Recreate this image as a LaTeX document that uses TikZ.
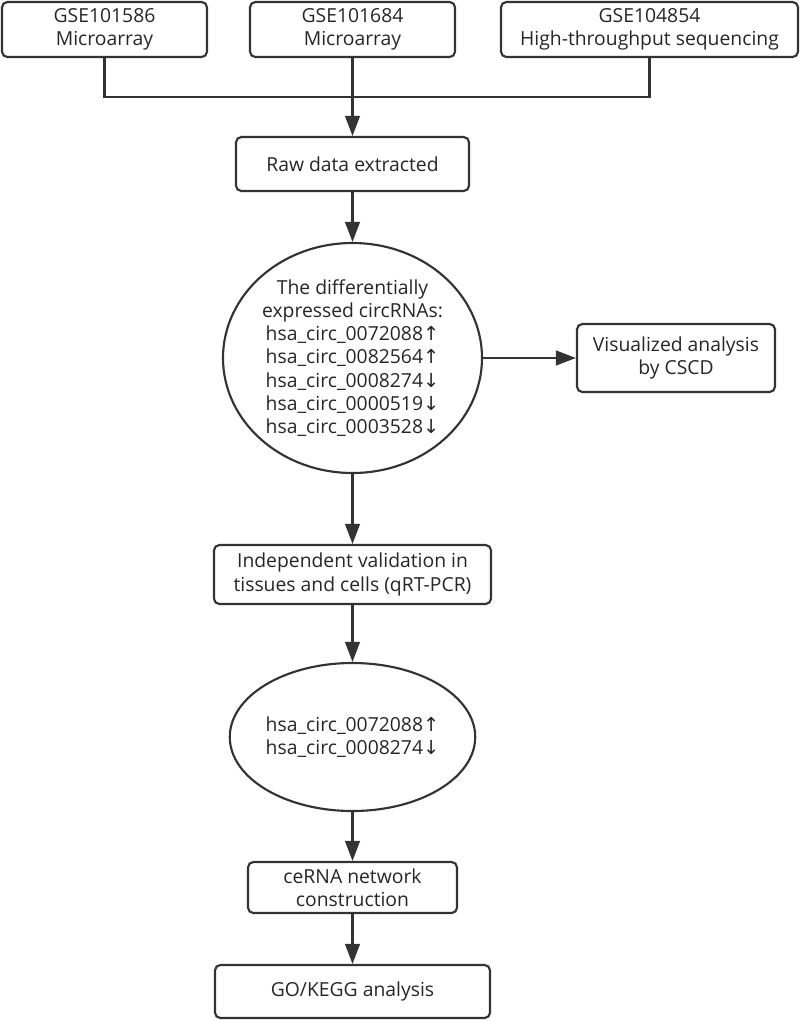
\documentclass[tikz,border=0pt]{standalone}
\usepackage{fontspec}
\setmainfont{Open Sans}
\newfontfamily\arrfont{DejaVu Sans}
\usetikzlibrary{shapes.geometric,arrows.meta}
\newcommand{\up}{{\arrfont\char"2191}}
\newcommand{\dn}{{\arrfont\char"2193}}
\begin{document}
\begin{tikzpicture}[x=0.75pt,y=-0.75pt,
  every node/.style={font=\fontsize{14.5pt}{17.4pt}\selectfont, text=black!85, align=center},
  box/.style={draw=black!80, line width=1.6pt, rounded corners=4pt, inner sep=0pt},
  oval/.style={draw=black!80, line width=1.6pt, ellipse, inner sep=0pt},
  conn/.style={draw=black!80, line width=1.6pt},
  arr/.style={conn, -{Triangle[length=15pt,width=11pt]}}
]
\useasboundingbox (0,0) rectangle (800,1022);
\node[box, minimum width=153.75pt, minimum height=41.25pt] (b1) at (104.5,29.5) {GSE101586\\Microarray};
\node[box, minimum width=153.75pt, minimum height=41.25pt] (b2) at (352.5,29.5) {GSE101684\\Microarray};
\node[box, minimum width=222.75pt, minimum height=41.25pt] (b3) at (649.5,29.5) {GSE104854\\High-throughput sequencing};
\coordinate (j) at (352.5,97);
\node[box, minimum width=174.75pt, minimum height=40.5pt] (raw) at (352.5,164) {Raw data extracted};
\node[oval, minimum width=194.25pt, minimum height=172.5pt] (e1) at (352.5,358) {The differentially\\expressed circRNAs:\\hsa\_circ\_0072088\up\\hsa\_circ\_0082564\up\\hsa\_circ\_0008274\dn\\hsa\_circ\_0000519\dn\\hsa\_circ\_0003528\dn};
\node[box, minimum width=148.5pt, minimum height=51pt] (vis) at (676,358) {Visualized analysis\\by CSCD};
\node[box, minimum width=207.75pt, minimum height=44.25pt] (ind) at (352.5,574.5) {Independent validation in\\tissues and cells (qRT-PCR)};
\node[oval, minimum width=155.25pt, minimum height=111pt] (e2) at (352.5,737) {hsa\_circ\_0072088\up\\hsa\_circ\_0008274\dn};
\node[box, minimum width=156.75pt, minimum height=38.25pt] (ce) at (352.5,887.5) {ceRNA network\\construction};
\node[box, minimum width=206.25pt, minimum height=39.75pt] (go) at (352.5,991.5) {GO/KEGG analysis};
\draw[conn] (b1.south) |- (j);
\draw[conn] (b3.south) |- (j);
\draw[arr] (b2.south) -- (raw.north);
\draw[arr] (raw.south) -- (e1.north);
\draw[arr] (e1.east) -- (vis.west);
\draw[arr] (e1.south) -- (ind.north);
\draw[arr] (ind.south) -- (e2.north);
\draw[arr] (e2.south) -- (ce.north);
\draw[arr] (ce.south) -- (go.north);
\end{tikzpicture}
\end{document}
